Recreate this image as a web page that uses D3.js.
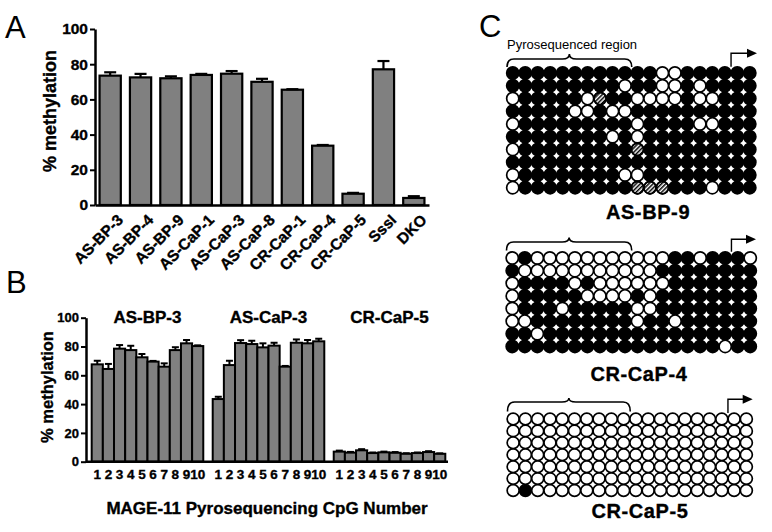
<!DOCTYPE html>
<html>
<head>
<meta charset="utf-8">
<script src="https://cdnjs.cloudflare.com/ajax/libs/d3/7.8.5/d3.min.js"></script>
<style>
body { margin: 0; background: #fff; }
svg { display: block; font-family: "Liberation Sans", Arial, sans-serif; }
.bold { font-weight: bold; stroke: #000; stroke-width: 0.35px; }
</style>
</head>
<body>
<svg id="fig" width="772" height="532"></svg>
<script>
// ---- panel A : mean methylation per sample
var samplesA = ["AS-BP-3", "AS-BP-4", "AS-BP-9", "AS-CaP-1", "AS-CaP-3", "AS-CaP-8",
                "CR-CaP-1", "CR-CaP-4", "CR-CaP-5", "SssI", "DKO"];
var methA = [73.5, 72.5, 72, 73.9, 74.6, 70, 65.5, 33.7, 6.4, 77.1, 4];
var errA  = [1.9, 2, 1.1, 0.6, 1.5, 1.7, 0.3, 0.4, 0.5, 4.7, 1];

// ---- panel B : per CpG methylation
var groupsB = ["AS-BP-3", "AS-CaP-3", "CR-CaP-5"];
var cpgB = ["1", "2", "3", "4", "5", "6", "7", "8", "9", "10"];
var methB_ASBP3  = [67.6, 64.4, 78.5, 77.5, 72.5, 69.5, 66, 77.5, 82.2, 80.3];
var errB_ASBP3   = [2.5, 3.5, 2.5, 3, 2.3, 0.5, 2.3, 2, 2.3, 0.5];
var methB_ASCaP3 = [43.5, 67.1, 82.4, 81.7, 79.4, 80.6, 66, 82.6, 82.2, 83.6];
var errB_ASCaP3  = [1.6, 3, 2, 2.3, 2.8, 2, 0.5, 2.3, 2.3, 1.8];
var methB_CRCaP5 = [7, 6.3, 7.9, 6, 6.5, 6.2, 5.5, 6, 6.7, 5.5];
var errB_CRCaP5  = [0.7, 0.5, 0.8, 0.4, 0.5, 0.5, 0.4, 0.4, 0.6, 0.3];

// ---- panel C : bisulfite clones (1 = methylated, 0 = unmethylated, x = not determined)
var cloneNames = ["AS-BP-9", "CR-CaP-4", "CR-CaP-5"];
var clones_ASBP9 = [
    "11111111111100111111",
    "11111111101100101111",
    "0111110x110000100111",
    "11111001001111111111",
    "01111111110111100111",
    "11111111010111111111",
    "0111111111x111111111",
    "11111111111111111111",
    "01111111100111111111",
    "0111111111xxx1110111"
];
var clones_CRCaP4 = [
    "01000000000001101110",
    "10000000000011111111",
    "01111010000001111111",
    "01111100001011111111",
    "01110111110011111111",
    "00111111110110111111",
    "11011111111111111111",
    "11111111111111111011"
];
var clones_CRCaP5 = [
    "00000000000000000000",
    "00000000000000000000",
    "00000000000000000000",
    "00000000000000000000",
    "00000000000000000000",
    "00000000000000000000",
    "01000000000000000000"
];
var yTicks = [0, 20, 40, 60, 80, 100];
var barFill = "#808080";

var svg = d3.select("#fig");

var defs = svg.append("defs");
defs.append("pattern")
    .attr("id", "hatch")
    .attr("patternUnits", "userSpaceOnUse")
    .attr("width", 3).attr("height", 3)
    .attr("patternTransform", "rotate(45)")
    .append("rect")
    .attr("width", 1.5).attr("height", 3)
    .attr("fill", "#000");

function styleAxis(g, fontSize){
    g.select(".domain").attr("stroke", "#000").attr("stroke-width", 2.5);
    g.selectAll(".tick line").attr("stroke", "#000").attr("stroke-width", 2);
    g.selectAll(".tick text")
        .attr("fill", "#000")
        .attr("stroke", "#000").attr("stroke-width", 0.35)
        .style("font-family", "'Liberation Sans', Arial, sans-serif")
        .style("font-weight", "bold")
        .style("font-size", fontSize + "px");
}

function panelLetter(txt, x, y){
    svg.append("text").attr("x", x).attr("y", y)
        .style("font-size", "31px")
        .text(txt);
}

// ================= Panel A =================
var xA = d3.scaleBand().domain(samplesA).range([95, 429]).paddingInner(0.3).paddingOuter(0.15);
var yA = d3.scaleLinear().domain([0, 100]).range([205, 29]);
var gA = svg.append("g");

gA.selectAll("rect.bar").data(samplesA).enter().append("rect")
    .attr("class", "bar")
    .attr("x", function(d){ return xA(d); })
    .attr("y", function(d, i){ return yA(methA[i]); })
    .attr("width", xA.bandwidth())
    .attr("height", function(d, i){ return yA(0) - yA(methA[i]); })
    .attr("fill", barFill).attr("stroke", "#000").attr("stroke-width", 2.2);

var errGA = gA.selectAll("g.err").data(samplesA).enter().append("g").attr("class", "err");
errGA.append("line")
    .attr("x1", function(d){ return xA(d) + xA.bandwidth() / 2; })
    .attr("x2", function(d){ return xA(d) + xA.bandwidth() / 2; })
    .attr("y1", function(d, i){ return yA(methA[i]); })
    .attr("y2", function(d, i){ return yA(methA[i] + errA[i]); })
    .attr("stroke", "#000").attr("stroke-width", 2.2);
errGA.append("line")
    .attr("x1", function(d){ return xA(d) + xA.bandwidth() / 2 - 6; })
    .attr("x2", function(d){ return xA(d) + xA.bandwidth() / 2 + 6; })
    .attr("y1", function(d, i){ return yA(methA[i] + errA[i]); })
    .attr("y2", function(d, i){ return yA(methA[i] + errA[i]); })
    .attr("stroke", "#000").attr("stroke-width", 2.2);

var yAxisA = gA.append("g")
    .attr("transform", "translate(95,0)")
    .call(d3.axisLeft(yA).tickValues(yTicks).tickSize(5).tickSizeOuter(0).tickPadding(2));
styleAxis(yAxisA, 15.5);

var xAxisA = gA.append("g")
    .attr("transform", "translate(0,205)")
    .call(d3.axisBottom(xA).tickSize(0).tickSizeOuter(0));
styleAxis(xAxisA, 15.5);
xAxisA.selectAll(".tick text")
    .attr("text-anchor", "end")
    .attr("y", 0).attr("dy", "0.72em")
    .attr("transform", "translate(6,8) rotate(-45)");

gA.append("text")
    .attr("class", "bold")
    .attr("transform", "translate(56,111) rotate(-90)")
    .attr("text-anchor", "middle")
    .style("font-size", "18px")
    .text("% methylation");

panelLetter("A", 5, 38);

// ================= Panel B =================
var methB = [methB_ASBP3, methB_ASCaP3, methB_CRCaP5];
var errB = [errB_ASBP3, errB_ASCaP3, errB_CRCaP5];

var xB = d3.scaleBand().domain(groupsB).range([86, 451]).paddingInner(0.078).paddingOuter(0.047);
var xBin = d3.scaleBand().domain(cpgB).range([0, xB.bandwidth()]);
var yB = d3.scaleLinear().domain([0, 100]).range([461.7, 317.7]);
var gB = svg.append("g");

groupsB.forEach(function(grp, gi){
    var gg = gB.append("g").attr("transform", "translate(" + xB(grp) + ",0)");
    gg.selectAll("rect").data(cpgB).enter().append("rect")
        .attr("x", function(d){ return xBin(d); })
        .attr("y", function(d, i){ return yB(methB[gi][i]); })
        .attr("width", xBin.bandwidth())
        .attr("height", function(d, i){ return yB(0) - yB(methB[gi][i]); })
        .attr("fill", barFill).attr("stroke", "#000").attr("stroke-width", 2);

    var eg = gg.selectAll("g.err").data(cpgB).enter().append("g").attr("class", "err");
    eg.append("line")
        .attr("x1", function(d){ return xBin(d) + xBin.bandwidth() / 2; })
        .attr("x2", function(d){ return xBin(d) + xBin.bandwidth() / 2; })
        .attr("y1", function(d, i){ return yB(methB[gi][i]); })
        .attr("y2", function(d, i){ return yB(methB[gi][i] + errB[gi][i]); })
        .attr("stroke", "#000").attr("stroke-width", 2);
    eg.append("line")
        .attr("x1", function(d){ return xBin(d) + xBin.bandwidth() / 2 - 3.5; })
        .attr("x2", function(d){ return xBin(d) + xBin.bandwidth() / 2 + 3.5; })
        .attr("y1", function(d, i){ return yB(methB[gi][i] + errB[gi][i]); })
        .attr("y2", function(d, i){ return yB(methB[gi][i] + errB[gi][i]); })
        .attr("stroke", "#000").attr("stroke-width", 2);

    var ax = gg.append("g")
        .attr("transform", "translate(0,461.7)")
        .call(d3.axisBottom(xBin).tickSize(0).tickPadding(8));
    ax.select(".domain").remove();
    styleAxis(ax, 13.5);

    gg.append("text")
        .attr("class", "bold")
        .attr("x", xB.bandwidth() / 2).attr("y", 323)
        .attr("text-anchor", "middle")
        .style("font-size", "17px")
        .text(grp);
});

var yAxisB = gB.append("g")
    .attr("transform", "translate(86,0)")
    .call(d3.axisLeft(yB).tickValues(yTicks).tickSize(5).tickSizeOuter(0).tickPadding(2));
styleAxis(yAxisB, 13);

gB.append("line")
    .attr("x1", 86).attr("x2", 448)
    .attr("y1", yB(0)).attr("y2", yB(0))
    .attr("stroke", "#000").attr("stroke-width", 2.5);

gB.append("text")
    .attr("class", "bold")
    .attr("transform", "translate(53,387) rotate(-90)")
    .attr("text-anchor", "middle")
    .style("font-size", "16.5px")
    .text("% methylation");

gB.append("text")
    .attr("class", "bold")
    .attr("x", 267).attr("y", 514)
    .attr("text-anchor", "middle")
    .style("font-size", "17px")
    .text("MAGE-11 Pyrosequencing CpG Number");

panelLetter("B", 6, 293);

// ================= Panel C =================
var gC = svg.append("g");
panelLetter("C", 479, 37);

gC.append("text")
    .attr("x", 507).attr("y", 48.5)
    .style("font-size", "13px")
    .text("Pyrosequenced region");

function bracePath(x0, x1, yEnd, yLine, yPeak){
    var xm = (x0 + x1) / 2;
    return "M" + x0 + "," + yEnd +
        "Q" + x0 + "," + yLine + " " + (x0 + 7) + "," + yLine +
        "L" + (xm - 7) + "," + yLine +
        "Q" + xm + "," + yLine + " " + xm + "," + yPeak +
        "Q" + xm + "," + yLine + " " + (xm + 7) + "," + yLine +
        "L" + (x1 - 7) + "," + yLine +
        "Q" + x1 + "," + yLine + " " + x1 + "," + yEnd;
}

function drawClones(rows, name, box, brace, arrow, label){
    var nCols = rows[0].length;
    var colsIdx = d3.range(nCols), rowsIdx = d3.range(rows.length);
    var xs = d3.scaleBand().domain(colsIdx).range([box.x0, box.x1]);
    var ys = d3.scaleBand().domain(rowsIdx).range([box.y0, box.y1]);
    var cells = [];
    rows.forEach(function(r, ri){
        r.split("").forEach(function(s, ci){ cells.push({r: ri, c: ci, s: s}); });
    });
    // methylated first, open circles drawn on top
    cells.sort(function(a, b){ return (a.s === "1" ? 0 : 1) - (b.s === "1" ? 0 : 1); });
    var rx = xs.bandwidth() / 2 - 0.15, ry = ys.bandwidth() / 2 - 0.15;
    var g = gC.append("g");
    g.selectAll("ellipse.c").data(cells).enter().append("ellipse")
        .attr("class", "c")
        .attr("cx", function(d){ return xs(d.c) + xs.bandwidth() / 2; })
        .attr("cy", function(d){ return ys(d.r) + ys.bandwidth() / 2; })
        .attr("rx", rx).attr("ry", ry)
        .attr("fill", function(d){ return d.s === "1" ? "#000" : "#fff"; })
        .attr("stroke", "#000").attr("stroke-width", 1.7);
    g.selectAll("ellipse.h").data(cells.filter(function(d){ return d.s === "x"; })).enter().append("ellipse")
        .attr("class", "h")
        .attr("cx", function(d){ return xs(d.c) + xs.bandwidth() / 2; })
        .attr("cy", function(d){ return ys(d.r) + ys.bandwidth() / 2; })
        .attr("rx", rx).attr("ry", ry)
        .attr("fill", "url(#hatch)")
        .attr("stroke", "#000").attr("stroke-width", 1.7);

    g.append("path")
        .attr("d", bracePath(xs(0) + 0.5, xs(10) + 0.5, brace[0], brace[1], brace[2]))
        .attr("fill", "none").attr("stroke", "#000").attr("stroke-width", 1.6);

    var ax = xs(18);
    g.append("path")
        .attr("d", "M" + ax + "," + box.y0 + "V" + arrow[0] + "H" + (arrow[1] - 8))
        .attr("fill", "none").attr("stroke", "#000").attr("stroke-width", 1.4);
    g.append("path")
        .attr("d", "M" + arrow[1] + "," + arrow[0] + "l-10,-4.5v9z")
        .attr("fill", "#000");

    g.append("text")
        .attr("class", "bold")
        .attr("x", label[0]).attr("y", label[1])
        .attr("text-anchor", "middle")
        .style("font-size", "20px")
        .style("letter-spacing", "0.6px")
        .text(name);
}

drawClones(clones_ASBP9, cloneNames[0], {x0: 506.5, x1: 756, y0: 66.7, y1: 194},
    [67, 59, 54], [53.3, 757], [648, 219.3]);
drawClones(clones_CRCaP4, cloneNames[1], {x0: 506, x1: 756.5, y0: 251.7, y1: 352.7},
    [250.5, 242, 237.5], [239.3, 756], [639, 380.7]);
drawClones(clones_CRCaP5, cloneNames[2], {x0: 507, x1: 752.5, y0: 413, y1: 496.5},
    [411.5, 402, 398], [399.3, 752.7], [640, 518]);
</script>
</body>
</html>
